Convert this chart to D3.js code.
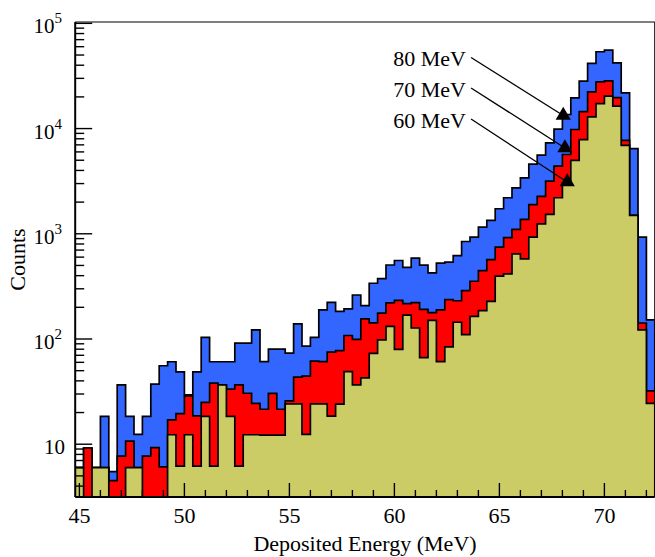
<!DOCTYPE html>
<html>
<head>
<meta charset="utf-8">
<title>Deposited Energy</title>
<script src="https://d3js.org/d3.v7.min.js"></script>
<style>
  body { margin: 0; background: #fff; }
  text { font-family: "Liberation Serif", "Times New Roman", serif; fill: #000; }
</style>
</head>
<body>
<script>
// histogram binning (MeV)
var binStart = 44.8, binWidth = 0.4;

// counts per bin, one array per beam energy
var counts80 = [6, 9.2, 6, 18.4, 5.5, 36.7, 18.4, 12.4, 18.4, 37.3,
  55.7, 60.8, 48.8, 29.5, 48.8, 103.7, 60.8, 60.8, 60.8, 91.5,
  91.5, 121.9, 61, 80, 80, 73.5, 139, 85.5, 103.6, 188.8,
  223, 183, 193, 262, 207.6, 338.7, 375, 505, 557, 480,
  588, 503, 425, 527, 537, 621, 845, 929, 1156, 1339,
  1729, 2200, 2730, 3400, 4600, 5600, 7320, 9890, 13600, 19600,
  28300, 41560, 53700, 55680, 42170, 21840, 6446, 929, 152];

var counts70 = [6, 9.2, 6, 6, 4.5, 7.7, 10.7, 6, 7.7, 9.3,
  6.1, 17, 19.5, 28.8, 18.6, 25, 38.1, 36.7, 33.4, 36.7,
  30.5, 24.4, 21.5, 30.4, 21.5, 25.8, 43.5, 44.3, 61.5, 61,
  75, 77.4, 108, 99, 155, 142.5, 176, 220, 232.7, 216.5,
  222, 191, 178.4, 189.4, 236.3, 231, 288.4, 353.9, 447, 569,
  746, 918, 1100, 1370, 1895, 2270, 3160, 4390, 5670, 9800,
  14500, 22330, 27800, 28420, 19720, 7736, 1494, 142, 32.2];

var counts60 = [6, 0, 6, 6, 0, 0, 6, 6, 0, 0,
  0, 12.3, 6.2, 12.3, 6.2, 18.4, 6.2, 36.7, 18.4, 6.2,
  12.3, 12.3, 12.2, 12.2, 12.2, 24.2, 24.2, 12.4, 24.2, 24.2,
  18.5, 24, 49, 36.7, 42.8, 73, 98, 131.7, 79.6, 168.6,
  127.2, 66.4, 150.4, 61, 84.3, 144.2, 109.9, 164.3, 186, 228,
  396, 415.6, 645, 578, 929, 1244, 1527, 2200, 3013, 4990,
  7852, 12900, 17290, 20310, 16310, 6935, 1494, 122, 24.4];

// axis ticks
var xMajor = [45, 50, 55, 60, 65, 70];
var yMajorExp = [1, 2, 3, 4, 5];

// annotations: label, arrow tail (MeV, counts), marker (MeV, counts)
var annoLabels = ["80 MeV", "70 MeV", "60 MeV"];
var annoTextE = [63.41, 63.41, 63.41];
var annoTextC = [39390, 19980, 10140];
var annoTailE = [63.65, 63.65, 63.65];
var annoTailC = [47430, 24300, 12340];
var annoTipE = [68.04, 68.12, 68.23];
var annoTipC = [13330, 6543, 3109];

var width = 655, height = 557,
    padL = 75.2, padR = 654.8, padT = 22, padB = 497,
    yMin = 3.15, yMax = 1.03e5;

var svg = d3.select("body").append("svg")
  .attr("width", width)
  .attr("height", height);

svg.append("rect").attr("width", width).attr("height", height).attr("fill", "#fff");

var nBins = counts80.length;
var x = d3.scaleLinear()
  .domain([binStart, binStart + binWidth * nBins])
  .range([padL, padR]);
var y = d3.scaleLog()
  .domain([yMin, yMax])
  .range([padB, padT]);

svg.append("clipPath").attr("id", "plot")
  .append("rect")
  .attr("x", padL).attr("y", padT)
  .attr("width", padR - padL).attr("height", padB - padT);

// step outline of one histogram, clamped to the bottom of the frame
function histPath(vals) {
  var pts = [[binStart, yMin]];
  vals.forEach(function (v, k) {
    var lo = binStart + binWidth * k, hi = lo + binWidth;
    var c = Math.max(v, yMin);
    pts.push([lo, c], [hi, c]);
  });
  pts.push([binStart + binWidth * vals.length, yMin]);
  return d3.line()
    .x(function (d) { return x(d[0]); })
    .y(function (d) { return y(d[1]); })(pts) + "Z";
}

var histG = svg.append("g").attr("clip-path", "url(#plot)");
[[counts80, "#3366ff"], [counts70, "#ff0000"], [counts60, "#cccc66"]].forEach(function (s) {
  histG.append("path")
    .attr("d", histPath(s[0]))
    .attr("fill", s[1])
    .attr("stroke", "#000")
    .attr("stroke-width", 1.7)
    .attr("stroke-linejoin", "miter");
});

// frame
svg.append("line").attr("x1", padL).attr("x2", padR).attr("y1", padT).attr("y2", padT)
  .attr("stroke", "#000").attr("stroke-width", 1.2);
svg.append("line").attr("x1", padR).attr("x2", padR).attr("y1", padT).attr("y2", padB)
  .attr("stroke", "#000").attr("stroke-width", 1.2);

var axisG = svg.append("g").attr("stroke", "#000");

// x axis
axisG.append("line").attr("x1", padL).attr("x2", padR).attr("y1", padB).attr("y2", padB)
  .attr("stroke-width", 2);
d3.range(45, 73).forEach(function (e) {
  var major = xMajor.indexOf(e) >= 0;
  axisG.append("line")
    .attr("x1", x(e)).attr("x2", x(e))
    .attr("y1", padB).attr("y2", padB - (major ? 14 : 7))
    .attr("stroke-width", 1.4);
});
svg.selectAll(".xlab").data(xMajor).enter().append("text")
  .attr("class", "xlab")
  .attr("x", function (d) { return x(d); })
  .attr("y", 523)
  .attr("text-anchor", "middle")
  .attr("font-size", 22)
  .text(function (d) { return d; });

svg.append("text")
  .attr("x", (padL + padR) / 2)
  .attr("y", 551)
  .attr("text-anchor", "middle")
  .attr("font-size", 22)
  .text("Deposited Energy (MeV)");

// y axis
axisG.append("line").attr("x1", padL).attr("x2", padL).attr("y1", padT).attr("y2", padB)
  .attr("stroke-width", 2);
yMajorExp.forEach(function (p) {
  d3.range(1, 10).forEach(function (m) {
    var v = m * Math.pow(10, p - 1);
    if (v < yMin || v > yMax) return;
    axisG.append("line")
      .attr("x1", padL).attr("x2", padL + (m === 1 ? 17 : 9))
      .attr("y1", y(v)).attr("y2", y(v))
      .attr("stroke-width", 1.4);
  });
});
axisG.append("line")
  .attr("x1", padL).attr("x2", padL + 17)
  .attr("y1", y(1e5)).attr("y2", y(1e5))
  .attr("stroke-width", 1.4);

yMajorExp.forEach(function (p) {
  var t = svg.append("text")
    .attr("y", y(Math.pow(10, p)) + 10)
    .attr("text-anchor", "end")
    .attr("font-size", 21);
  if (p === 1) {
    t.attr("x", 65).text("10");
  } else {
    t.attr("x", 62);
    t.append("tspan").text("10");
    t.append("tspan").attr("dy", -10).attr("font-size", 15).text(p);
  }
});

svg.append("text")
  .attr("transform", "translate(25," + ((padT + padB) / 2) + ") rotate(-90)")
  .attr("text-anchor", "middle")
  .attr("font-size", 22)
  .text("Counts");

// annotations
annoLabels.forEach(function (lab, i) {
  svg.append("text")
    .attr("x", x(annoTextE[i]))
    .attr("y", y(annoTextC[i]))
    .attr("text-anchor", "end")
    .attr("font-size", 22)
    .text(lab);
  svg.append("line")
    .attr("x1", x(annoTailE[i])).attr("y1", y(annoTailC[i]))
    .attr("x2", x(annoTipE[i])).attr("y2", y(annoTipC[i]))
    .attr("stroke", "#000").attr("stroke-width", 1.3);
  svg.append("path")
    .attr("d", d3.symbol().type(d3.symbolTriangle).size(100)())
    .attr("transform", "translate(" + x(annoTipE[i]) + "," + y(annoTipC[i]) + ")")
    .attr("fill", "#000");
});
</script>
</body>
</html>
